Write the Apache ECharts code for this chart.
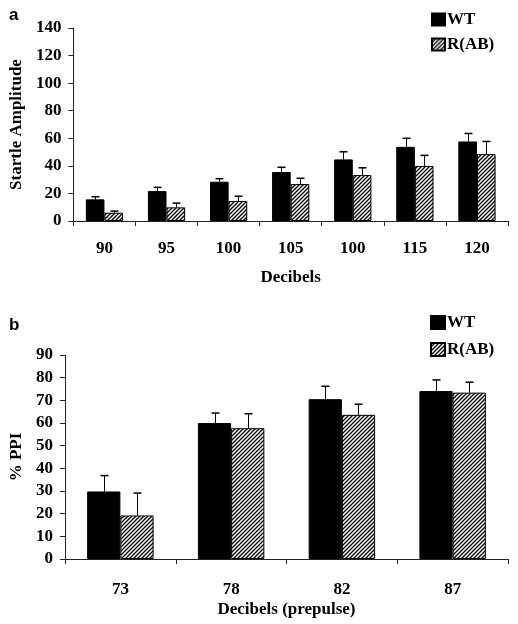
<!DOCTYPE html>
<html><head><meta charset="utf-8">
<script src="https://cdn.jsdelivr.net/npm/echarts@6/dist/echarts.min.js"></script>
<style>html,body{margin:0;padding:0;background:#fff}#c{width:518px;height:624px}</style>
</head><body><div id="c"></div>
<script>
// Panel a
const catsA = ['90','95','100','105','100','115','120'];
const wtA = [15.7, 21.7, 28.5, 35.5, 44.7, 53.8, 57.7];
const wtAErr = [1.9, 2.7, 2.2, 3.5, 5.5, 6.2, 5.8];
const rA = [6.0, 9.9, 14.5, 26.8, 33.3, 39.9, 48.5];
const rAErr = [1.2, 3.1, 3.5, 4.2, 5.3, 7.7, 9.2];
// Panel b
const catsB = ['73','78','82','87'];
const wtB = [29.8, 60.0, 70.5, 74.1];
const wtBErr = [7.0, 4.4, 5.7, 4.9];
const rB = [19.2, 57.7, 63.6, 73.4];
const rBErr = [9.9, 6.4, 4.7, 4.6];

const FONT = '"Liberation Serif","Times New Roman",serif';
const FS = 17;

function hatch() {
  const c = document.createElement('canvas');
  c.width = 4; c.height = 4;
  const g = c.getContext('2d');
  g.fillStyle = '#fff'; g.fillRect(0,0,4,4);
  g.strokeStyle = '#000'; g.lineWidth = 1.3;
  g.beginPath();
  g.moveTo(-1,5); g.lineTo(5,-1);
  g.moveTo(-1,1); g.lineTo(1,-1);
  g.moveTo(3,5); g.lineTo(5,3);
  g.stroke();
  return {image: c, repeat: 'repeat'};
}
const HATCH = hatch();
const BW = 0.3;

function errSeries(name, vals, errs, xi, yi, side) {
  return {
    type: 'custom', name: name + ' err', xAxisIndex: xi, yAxisIndex: yi, z: 5,
    data: vals.map((v, i) => [i, v, v + errs[i]]),
    renderItem: function (params, api) {
      const band = api.size([1, 0])[0];
      const off = side * band * BW / 2;
      const p0 = api.coord([api.value(0), api.value(1)]);
      const p1 = api.coord([api.value(0), api.value(2)]);
      const x = Math.round(p0[0] + off) + 0.5;
      const style = {stroke: '#000', lineWidth: 1};
      return {type: 'group', children: [
        {type: 'line', shape: {x1: x, y1: p0[1], x2: x, y2: p1[1]}, style},
        {type: 'line', shape: {x1: x - 4, y1: p1[1], x2: x + 4, y2: p1[1]}, style: {stroke: '#000', lineWidth: 1.5}}
      ]};
    }
  };
}

const axisLine = {lineStyle: {color: '#222', width: 1}};
const labelStyle = {color: '#000', fontFamily: FONT, fontWeight: 'bold', fontSize: FS};
const nameStyle = {color: '#000', fontFamily: FONT, fontWeight: 'bold', fontSize: FS};

function xAx(cats, gi, name, gap, margin) {
  return {type: 'category', gridIndex: gi, data: cats, name: name, nameLocation: 'middle', nameGap: gap,
    nameTextStyle: nameStyle, axisLine, axisTick: {show: true, length: 5, lineStyle: {color: '#222'}},
    axisLabel: Object.assign({margin: margin}, labelStyle)};
}
function yAx(gi, max, interval, name, gap) {
  return {type: 'value', gridIndex: gi, min: 0, max, interval, name, nameLocation: 'middle', nameGap: gap,
    nameTextStyle: nameStyle, axisLine: Object.assign({show: true}, axisLine),
    axisTick: {show: true, length: 5, lineStyle: {color: '#222'}}, splitLine: {show: false},
    axisLabel: Object.assign({margin: 12}, labelStyle)};
}
function bar(name, vals, xi, yi, color) {
  return {type: 'bar', name, xAxisIndex: xi, yAxisIndex: yi, data: vals, barWidth: (BW*100)+'%', barGap: '0%',
    itemStyle: {color, borderColor: '#000', borderWidth: 1}, animation: false};
}
const legText = {fontFamily: FONT, fontWeight: 'bold', fontSize: FS, color: '#000', lineHeight: 14, padding: [0,0,0,-3]};

const chart = echarts.init(document.getElementById('c'), null, {renderer: 'canvas'});
chart.setOption({
  animation: false,
  backgroundColor: '#fff',
  title: [
    {text: 'a', left: 9, top: 7, padding: 0, textStyle: {fontFamily: '"Liberation Sans",Arial,sans-serif', fontWeight: 'bold', fontSize: 17, color: '#000'}},
    {text: 'b', left: 9, top: 317, padding: 0, textStyle: {fontFamily: '"Liberation Sans",Arial,sans-serif', fontWeight: 'bold', fontSize: 17, color: '#000'}}
  ],
  legend: [
    {orient: 'vertical', left: 431, top: 11, padding: 0, itemWidth: 13, itemHeight: 12, itemGap: 8, icon: 'rect',
      data: ['WT', 'R(AB)'], textStyle: legText},
    {orient: 'vertical', left: 430, top: 314, padding: 0, itemWidth: 14, itemHeight: 13, itemGap: 10, icon: 'rect',
      data: ['WT', 'R(AB)'], textStyle: legText}
  ],
  grid: [
    {left: 72, right: 10, top: 28, bottom: 403},
    {left: 63, right: 10, top: 355, bottom: 65}
  ],
  xAxis: [xAx(catsA, 0, 'Decibels', 48, 19), xAx(catsB, 1, 'Decibels (prepulse)', 42, 22)],
  yAxis: [yAx(0, 140, 20, 'Startle Amplitude', 48), yAx(1, 90, 10, '% PPI', 40)],
  series: [
    bar('WT', wtA, 0, 0, '#000'),
    bar('R(AB)', rA, 0, 0, HATCH),
    errSeries('WT', wtA, wtAErr, 0, 0, -1),
    errSeries('R(AB)', rA, rAErr, 0, 0, 1),
    bar('WT', wtB, 1, 1, '#000'),
    bar('R(AB)', rB, 1, 1, HATCH),
    errSeries('WT', wtB, wtBErr, 1, 1, -1),
    errSeries('R(AB)', rB, rBErr, 1, 1, 1)
  ]
});
</script></body></html>
